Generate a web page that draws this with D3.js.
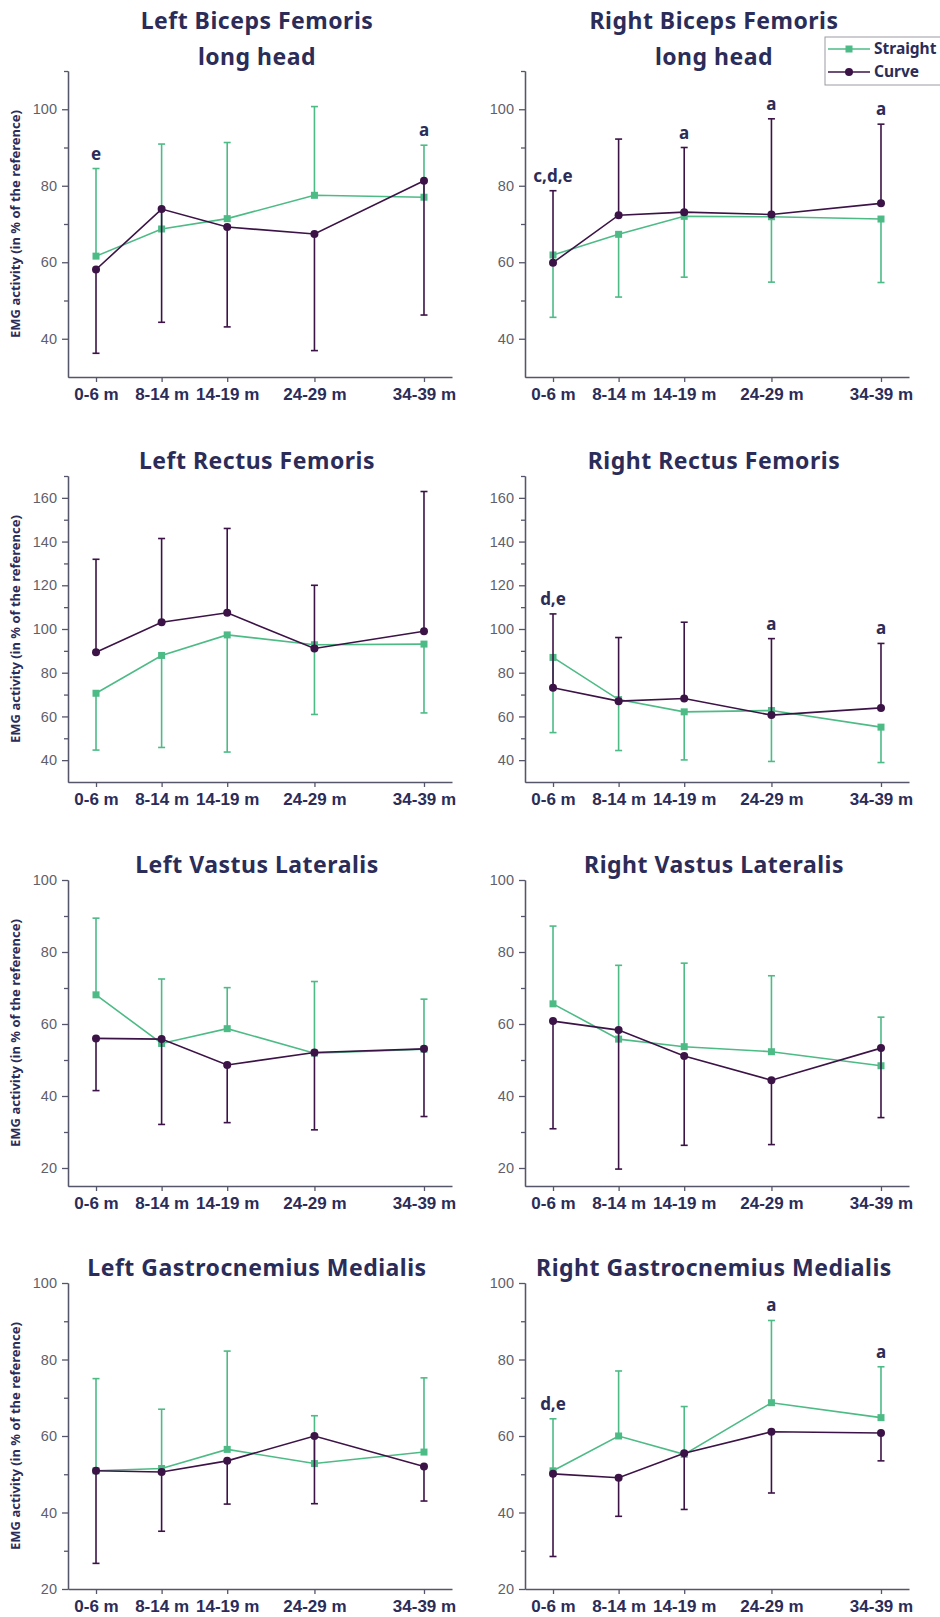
<!doctype html>
<html>
<head>
<meta charset="utf-8">
<title>EMG activity</title>
<style>
  body { margin:0; background:#fff; }
  svg { display:block; font-family:"Noto Sans", "DejaVu Sans", sans-serif; }
  .title { font-size:23px; font-weight:bold; fill:#2b2c58; letter-spacing:0.5px; }
  .ylab { font-size:13px; font-weight:bold; fill:#2b2c58; }
  .xaxis text { font-size:17px; font-weight:bold; fill:#2b2c58; }
  .yaxis text { font-size:14.5px; fill:#5f5f6c; }
  .xaxis path, .xaxis line, .yaxis path, .yaxis line { stroke:#55566a; stroke-width:1.3px; }
  .note { font-size:17px; font-weight:bold; fill:#2b2c58; }
  .legend text { font-size:15.5px; font-weight:bold; fill:#2b2c58; }
</style>
<script src="https://cdn.jsdelivr.net/npm/d3@7"></script>
</head>
<body>
<svg id="chart" width="940" height="1617"></svg>
<script>

// categories along x (positions in months-axis units)
var categories = ["0-6 m", "8-14 m", "14-19 m", "24-29 m", "34-39 m"]
var catPos = [0, 1, 2, 3.33, 5]

var titles = [
  ["Left Biceps Femoris", "long head"], ["Right Biceps Femoris", "long head"],
  ["Left Rectus Femoris"], ["Right Rectus Femoris"],
  ["Left Vastus Lateralis"], ["Right Vastus Lateralis"],
  ["Left Gastrocnemius Medialis"], ["Right Gastrocnemius Medialis"]
]

// y ranges per row and tick labels
var yDomains = [[30, 110], [30, 170], [15, 100], [20, 100]]
var yMajor = [[40, 60, 80, 100], [40, 60, 80, 100, 120, 140, 160], [20, 40, 60, 80, 100], [20, 40, 60, 80, 100]]
var yMinor = [[50, 70, 90, 110], [50, 70, 90, 110, 130, 150, 170], [30, 50, 70, 90], [30, 50, 70, 90]]

// means and SD (one-sided error bars)
var straightMean = [
  [61.6, 68.7, 71.4, 77.5, 77.0],
  [61.9, 67.3, 72.0, 71.9, 71.3],
  [70.6, 87.9, 97.3, 92.8, 93.1],
  [87.0, 67.7, 62.1, 62.7, 55.1],
  [68.1, 54.6, 58.7, 51.9, 53.0],
  [65.6, 55.8, 53.7, 52.3, 48.4],
  [50.9, 51.5, 56.5, 52.8, 55.8],
  [50.9, 60.0, 55.2, 68.7, 64.8]
]
var straightSD = [
  [22.9, 22.2, 19.9, 23.2, 13.6],
  [16.3, 16.4, 15.9, 17.1, 16.6],
  [26.0, 42.1, 53.6, 31.9, 31.5],
  [34.4, 23.3, 22.0, 23.3, 16.2],
  [21.3, 17.9, 11.4, 19.9, 13.9],
  [21.6, 20.5, 23.2, 21.1, 13.5],
  [24.1, 15.5, 25.7, 12.5, 19.4],
  [13.6, 17.0, 12.5, 21.5, 13.3]
]
var curveMean = [
  [58.1, 73.9, 69.2, 67.4, 81.3],
  [59.9, 72.3, 73.1, 72.5, 75.4],
  [89.4, 103.1, 107.4, 91.1, 99.0],
  [73.1, 67.0, 68.2, 60.6, 63.9],
  [56.0, 55.8, 48.6, 52.1, 53.1],
  [60.8, 58.3, 51.1, 44.4, 53.3],
  [50.9, 50.6, 53.5, 60.0, 52.0],
  [50.1, 49.1, 55.5, 61.1, 60.8]
]
var curveSD = [
  [21.9, 29.6, 26.1, 30.5, 35.1],
  [18.8, 19.9, 16.9, 25.0, 20.7],
  [42.5, 38.3, 38.6, 28.9, 63.9],
  [33.8, 29.1, 34.9, 35.0, 29.5],
  [14.5, 23.7, 16.0, 21.5, 18.8],
  [29.9, 38.6, 24.8, 17.9, 19.3],
  [24.2, 15.5, 11.3, 17.7, 9.0],
  [21.6, 10.1, 14.7, 16.0, 7.3]
]
// which group's bar points up (the other one points down)
var straightUp = [true, false, false, false, true, true, true, true]

// significance letters
var notes = [
  ["e", "", "", "", "a"],
  ["c,d,e", "", "a", "a", "a"],
  ["", "", "", "", ""],
  ["d,e", "", "", "a", "a"],
  ["", "", "", "", ""],
  ["", "", "", "", ""],
  ["", "", "", "", ""],
  ["d,e", "", "", "a", "a"]
]

var green = "#4dbb86", purple = "#3c1346"

var svg = d3.select("#chart")
var colX = [68, 525]
var rowY = [71, 476, 880, 1283]
var pw = 384, ph = 306

for (var p = 0; p < 8; p++) {
  var row = Math.floor(p / 2), col = p % 2
  var g = svg.append("g").attr("transform", "translate(" + colX[col] + "," + rowY[row] + ")")

  var x = d3.scaleLinear().domain([-0.427, 5.427]).range([0, pw])
  var y = d3.scaleLinear().domain(yDomains[row]).range([ph, 0])

  // title
  var t = titles[p]
  var tx = pw / 2
  if (t.length == 2) {
    g.append("text").attr("class", "title").attr("x", tx - 3).attr("y", -42).attr("text-anchor", "middle").text(t[0])
    g.append("text").attr("class", "title").attr("x", tx - 3).attr("y", -6).attr("text-anchor", "middle").text(t[1])
  } else {
    g.append("text").attr("class", "title").attr("x", tx - 3).attr("y", -7).attr("text-anchor", "middle").text(t[0])
  }

  // axes
  g.append("g").attr("class", "yaxis")
    .call(d3.axisLeft(y).tickValues(yMinor[row]).tickSize(4).tickSizeOuter(0).tickFormat(""))
  g.append("g").attr("class", "yaxis")
    .call(d3.axisLeft(y).tickValues(yMajor[row]).tickSize(6).tickSizeOuter(0).tickPadding(5))
  g.append("g").attr("class", "xaxis").attr("transform", "translate(0," + ph + ")")
    .call(d3.axisBottom(x).tickValues(catPos).tickSize(5).tickSizeOuter(0).tickPadding(6)
      .tickFormat(function(d, i) { return categories[i] }))

  if (col == 0) {
    g.append("text").attr("class", "ylab")
      .attr("transform", "translate(-48," + (ph / 2) + ") rotate(-90)")
      .attr("text-anchor", "middle")
      .text("EMG activity (in % of the reference)")
  }

  var groups = [
    { mean: straightMean[p], sd: straightSD[p], dir: straightUp[p] ? 1 : -1, color: green, shape: "square" },
    { mean: curveMean[p], sd: curveSD[p], dir: straightUp[p] ? -1 : 1, color: purple, shape: "circle" }
  ]

  groups.forEach(function(s) {
    var pts = s.mean.map(function(m, i) { return { x: catPos[i], m: m, e: m + s.dir * s.sd[i] } })

    // error bars
    var eb = g.append("g")
    eb.selectAll("line.v").data(pts).enter().append("line")
      .attr("x1", function(d) { return x(d.x) }).attr("x2", function(d) { return x(d.x) })
      .attr("y1", function(d) { return y(d.m) }).attr("y2", function(d) { return y(d.e) })
      .attr("stroke", s.color).attr("stroke-width", 1.6)
    eb.selectAll("line.c").data(pts).enter().append("line")
      .attr("x1", function(d) { return x(d.x) - 3.5 }).attr("x2", function(d) { return x(d.x) + 3.5 })
      .attr("y1", function(d) { return y(d.e) }).attr("y2", function(d) { return y(d.e) })
      .attr("stroke", s.color).attr("stroke-width", 1.6)

    // line
    g.append("path").datum(pts)
      .attr("fill", "none").attr("stroke", s.color).attr("stroke-width", 1.6)
      .attr("d", d3.line().x(function(d) { return x(d.x) }).y(function(d) { return y(d.m) }))

    // markers
    if (s.shape == "square") {
      g.selectAll(null).data(pts).enter().append("rect")
        .attr("x", function(d) { return x(d.x) - 3.5 }).attr("y", function(d) { return y(d.m) - 3.5 })
        .attr("width", 7).attr("height", 7).attr("fill", s.color)
    } else {
      g.selectAll(null).data(pts).enter().append("circle")
        .attr("cx", function(d) { return x(d.x) }).attr("cy", function(d) { return y(d.m) })
        .attr("r", 4).attr("fill", s.color)
    }
  })

  // letters above the upward bar
  var up = straightUp[p] ? groups[0] : groups[1]
  g.selectAll(null).data(notes[p]).enter().append("text")
    .attr("class", "note").attr("text-anchor", "middle")
    .attr("x", function(d, i) { return x(catPos[i]) })
    .attr("y", function(d, i) { return y(up.mean[i] + up.sd[i]) - 9 })
    .text(function(d) { return d })
}

// legend
var lg = svg.append("g").attr("class", "legend").attr("transform", "translate(825,37)")
lg.append("rect").attr("x", 0).attr("y", 0).attr("width", 118).attr("height", 48)
  .attr("fill", "#fff").attr("stroke", "#9a9aa4").attr("stroke-width", 1)
var legItems = [{ name: "Straight", color: green, shape: "square" }, { name: "Curve", color: purple, shape: "circle" }]
legItems.forEach(function(d, i) {
  var ly = 12 + i * 23
  lg.append("line").attr("x1", 3).attr("x2", 45).attr("y1", ly).attr("y2", ly)
    .attr("stroke", d.color).attr("stroke-width", 1.6)
  if (d.shape == "square") {
    lg.append("rect").attr("x", 20.5).attr("y", ly - 3.5).attr("width", 7).attr("height", 7).attr("fill", d.color)
  } else {
    lg.append("circle").attr("cx", 24).attr("cy", ly).attr("r", 4).attr("fill", d.color)
  }
  lg.append("text").attr("x", 49).attr("y", ly + 5).text(d.name)
})

</script>
</body>
</html>
